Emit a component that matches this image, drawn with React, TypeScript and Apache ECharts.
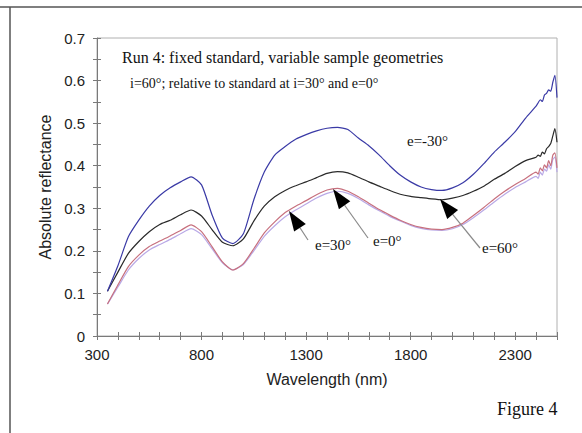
import React, { useEffect, useRef } from "react";
import * as echarts from "echarts";

// Wavelength (nm)
const wavelengths = [
  350, 400, 450, 500, 550, 600, 650, 700, 750, 800, 850, 900, 950, 1000, 1050, 1100,
  1150, 1200, 1250, 1300, 1350, 1400, 1450, 1500, 1550, 1600, 1650, 1700, 1750, 1800,
  1850, 1900, 1950, 2000, 2050, 2100, 2150, 2200, 2250, 2300, 2350, 2400, 2410, 2420,
  2430, 2440, 2450, 2460, 2470, 2480, 2490, 2500,
];

// e = -30° (blue)
const eMinus30 = [
  0.105, 0.165, 0.233, 0.272, 0.305, 0.330, 0.348, 0.362, 0.374, 0.355, 0.285, 0.230, 0.217, 0.240, 0.320, 0.385,
  0.425, 0.445, 0.462, 0.473, 0.482, 0.488, 0.490, 0.485, 0.465, 0.447, 0.425, 0.400, 0.378, 0.362,
  0.350, 0.344, 0.342, 0.348, 0.360, 0.380, 0.405, 0.432, 0.455, 0.480, 0.512, 0.540, 0.548, 0.555,
  0.551, 0.566, 0.570, 0.578, 0.575, 0.596, 0.612, 0.560,
];

// e = 60° (black)
const e60 = [
  0.105, 0.150, 0.194, 0.222, 0.245, 0.262, 0.272, 0.285, 0.296, 0.282, 0.250, 0.220, 0.212, 0.228, 0.270, 0.305,
  0.327, 0.342, 0.353, 0.362, 0.372, 0.382, 0.386, 0.383, 0.373, 0.362, 0.352, 0.342, 0.333, 0.328,
  0.325, 0.322, 0.320, 0.324, 0.330, 0.340, 0.352, 0.368, 0.382, 0.398, 0.412, 0.420, 0.425, 0.422,
  0.432, 0.428, 0.440, 0.445, 0.452, 0.470, 0.487, 0.455,
];

// e = 0° (pink / red)
const e0 = [
  0.075, 0.120, 0.163, 0.190, 0.210, 0.223, 0.235, 0.248, 0.261, 0.245, 0.210, 0.174, 0.155, 0.170, 0.205, 0.242,
  0.268, 0.290, 0.305, 0.318, 0.332, 0.343, 0.347, 0.340, 0.327, 0.312, 0.297, 0.284, 0.272, 0.262,
  0.255, 0.251, 0.250, 0.255, 0.265, 0.283, 0.302, 0.322, 0.340, 0.356, 0.370, 0.385, 0.380, 0.395,
  0.388, 0.402, 0.395, 0.412, 0.400, 0.425, 0.430, 0.395,
];

// e = 30° (lavender)
const e30 = [
  0.075, 0.115, 0.155, 0.182, 0.202, 0.215, 0.227, 0.240, 0.252, 0.238, 0.205, 0.172, 0.155, 0.168, 0.200, 0.234,
  0.259, 0.280, 0.296, 0.310, 0.324, 0.335, 0.340, 0.335, 0.323, 0.308, 0.294, 0.281, 0.270, 0.260,
  0.253, 0.249, 0.248, 0.252, 0.262, 0.278, 0.296, 0.315, 0.333, 0.349, 0.362, 0.375, 0.370, 0.385,
  0.378, 0.392, 0.387, 0.402, 0.392, 0.415, 0.420, 0.385,
];

const titleText = "Run 4: fixed standard, variable sample geometries";
const subtitleText = "i=60°; relative to standard at i=30° and e=0°";
const figureText = "Figure 4";
const xName = "Wavelength (nm)";
const yName = "Absolute reflectance";

const SERIF = '"Liberation Serif", "Times New Roman", serif';
const SANS = '"Liberation Sans", Arial, sans-serif';

function arrow(tip: number[], tail: number[], len = 20, half = 7) {
  const dx = tip[0] - tail[0];
  const dy = tip[1] - tail[1];
  const d = Math.sqrt(dx * dx + dy * dy);
  const ux = dx / d;
  const uy = dy / d;
  const bx = tip[0] - ux * len;
  const by = tip[1] - uy * len;
  const px = -uy * half;
  const py = ux * half;
  return [
    {
      type: "line",
      shape: { x1: tail[0], y1: tail[1], x2: bx, y2: by },
      style: { stroke: "#8a8a8a", lineWidth: 1.2 },
      z: 10,
    },
    {
      type: "polygon",
      shape: { points: [tip, [bx + px, by + py], [bx - px, by - py]] },
      style: { fill: "#000" },
      z: 11,
    },
  ];
}

function txt(text: string, x: number, y: number, size: number, align = "left") {
  return {
    type: "text",
    x,
    y,
    z: 12,
    style: {
      text,
      font: `${size}px ${SERIF}`,
      fill: "#111",
      align,
      verticalAlign: "middle",
    },
  };
}

export default function App() {
  const ref = useRef<HTMLDivElement>(null);

  useEffect(() => {
    if (!ref.current) return;
    const chart = echarts.init(ref.current, null, { renderer: "svg" });

    const mk = (vals: number[]) => wavelengths.map((w, i) => [w, vals[i]]);
    const line = (name: string, vals: number[], color: string, z: number) => ({
      name,
      type: "line",
      data: mk(vals),
      showSymbol: false,
      symbol: "none",
      smooth: 0.2,
      z,
      lineStyle: { color, width: 1.2 },
    });

    const axisColor = "#7a7a7a";

    chart.setOption({
      animation: false,
      backgroundColor: "#fff",
      grid: {
        left: 97,
        right: 25,
        top: 38,
        bottom: 97,
        show: true,
        borderColor: "#b0b0b0",
        borderWidth: 1,
      },
      xAxis: [
        {
          type: "value",
          min: 300,
          max: 2500,
          interval: 100,
          position: "bottom",
          axisLine: { show: true, lineStyle: { color: axisColor } },
          axisTick: { show: true, inside: false, length: 4, lineStyle: { color: axisColor } },
          axisLabel: {
            color: "#222",
            fontSize: 15,
            fontFamily: SANS,
            margin: 11,
            formatter: (v: number) => (Math.round(v - 300) % 500 === 0 ? String(Math.round(v)) : ""),
          },
          splitLine: { show: false },
          name: xName,
          nameLocation: "middle",
          nameGap: 35,
          nameTextStyle: { color: "#222", fontSize: 16, fontFamily: SANS },
        },
        {
          type: "value",
          min: 300,
          max: 2500,
          interval: 100,
          position: "bottom",
          axisLine: { show: false },
          axisTick: { show: true, inside: true, length: 4, lineStyle: { color: axisColor } },
          axisLabel: { show: false },
          splitLine: { show: false },
        },
      ],
      yAxis: [
        {
          type: "value",
          min: 0,
          max: 0.7,
          interval: 0.05,
          position: "left",
          axisLine: { show: true, lineStyle: { color: axisColor } },
          axisTick: { show: true, inside: false, length: 4, lineStyle: { color: axisColor } },
          axisLabel: {
            color: "#222",
            fontSize: 15,
            fontFamily: SANS,
            margin: 12,
            formatter: (v: number) => {
              const k = Math.round(v * 100);
              if (k % 10 !== 0) return "";
              return k === 0 ? "0" : (k / 100).toFixed(1);
            },
          },
          splitLine: { show: false },
          name: yName,
          nameLocation: "middle",
          nameGap: 42,
          nameRotate: 90,
          nameTextStyle: { color: "#222", fontSize: 16, fontFamily: SANS },
        },
        {
          type: "value",
          min: 0,
          max: 0.7,
          interval: 0.05,
          position: "left",
          axisLine: { show: false },
          axisTick: { show: true, inside: true, length: 4, lineStyle: { color: axisColor } },
          axisLabel: { show: false },
          splitLine: { show: false },
        },
      ],
      series: [
        line("e=30°", e30, "#b9a9e6", 2),
        line("e=0°", e0, "#c7707e", 3),
        line("e=60°", e60, "#2a2a2a", 4),
        line("e=-30°", eMinus30, "#3a3aa6", 5),
      ],
      graphic: [
        {
          type: "line",
          shape: { x1: 0, y1: 7, x2: 582, y2: 7 },
          style: { stroke: "#555", lineWidth: 1.5 },
        },
        {
          type: "line",
          shape: { x1: 10, y1: 7, x2: 10, y2: 433 },
          style: { stroke: "#555", lineWidth: 1.5 },
        },
        txt(titleText, 122, 57, 16),
        txt(subtitleText, 130, 83, 14),
        txt("e=-30°", 407, 141, 15),
        txt("e=30°", 315, 245, 15),
        txt("e=0°", 373, 241, 15),
        txt("e=60°", 482, 248, 15),
        txt(figureText, 497, 409, 18),
        ...arrow([289, 211], [308, 240]),
        ...arrow([333, 189], [368, 238]),
        ...arrow([440, 199], [480, 248]),
      ],
    });

    return () => chart.dispose();
  }, []);

  return (
    <div
      ref={ref}
      style={{ position: "fixed", left: 0, top: 0, width: 582, height: 433, background: "#fff" }}
    />
  );
}
